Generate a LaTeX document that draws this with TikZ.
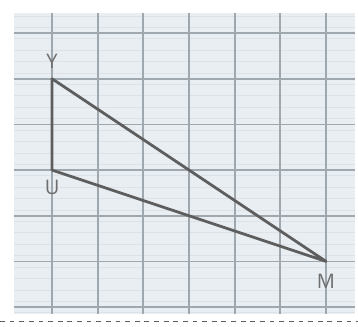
\documentclass[tikz,border=0pt]{standalone}
\usepackage{fontspec}
\setsansfont{Open Sans}
\definecolor{paperblue}{HTML}{E9EEF2}
\definecolor{faintline}{HTML}{DCE2E7}
\definecolor{gridgray}{HTML}{A0A8AF}
\definecolor{sidegray}{HTML}{5E5E5E}
\definecolor{labelgray}{HTML}{6E6E6E}
\tikzset{
  gridline/.style={gridgray,line width=1.1pt},
  thinline/.style={faintline,line width=0.5pt},
  side/.style={sidegray,line width=1.7pt,line join=round},
  lbl/.style={labelgray,font=\sffamily\fontsize{12.5}{14}\selectfont,inner sep=0pt}
}
\begin{document}
\begin{tikzpicture}[x=1cm,y=1cm]
	\useasboundingbox (-1.14,-0.415) rectangle (6.70,6.725);
	\fill[paperblue] (-0.83,-0.15) rectangle (6.63,6.44);
	% faint ruling of the sheet
	\foreach \y in {-0.125,0.125,0.375,...,6.4}
		\draw[thinline] (-0.83,\y)--(6.63,\y);
	\foreach \x in {0,...,6}
		\draw[gridline] (\x,-0.15)--(\x,6.44);
	\foreach \y in {0,...,6}
		\draw[gridline] (-0.83,\y)--(6.63,\y);
	\coordinate (Y) at (0,5);
	\coordinate (U) at (0,3);
	\coordinate (M) at (6,1);
	\draw[side] (Y)--(U)--(M)--cycle;
	\node[lbl,yshift=0.38cm] (lY) at (Y) {Y};
	\node[lbl,yshift=-0.38cm] (lU) at (U) {U};
	\node[lbl,yshift=-0.44cm] (lM) at (M) {M};
	\coordinate (cutL) at (-1.14,-0.31);
	\coordinate (cutR) at (6.70,-0.31);
	\draw[dashed,sidegray,line width=0.6pt] (cutL)--(cutR);
\end{tikzpicture}
\end{document}
